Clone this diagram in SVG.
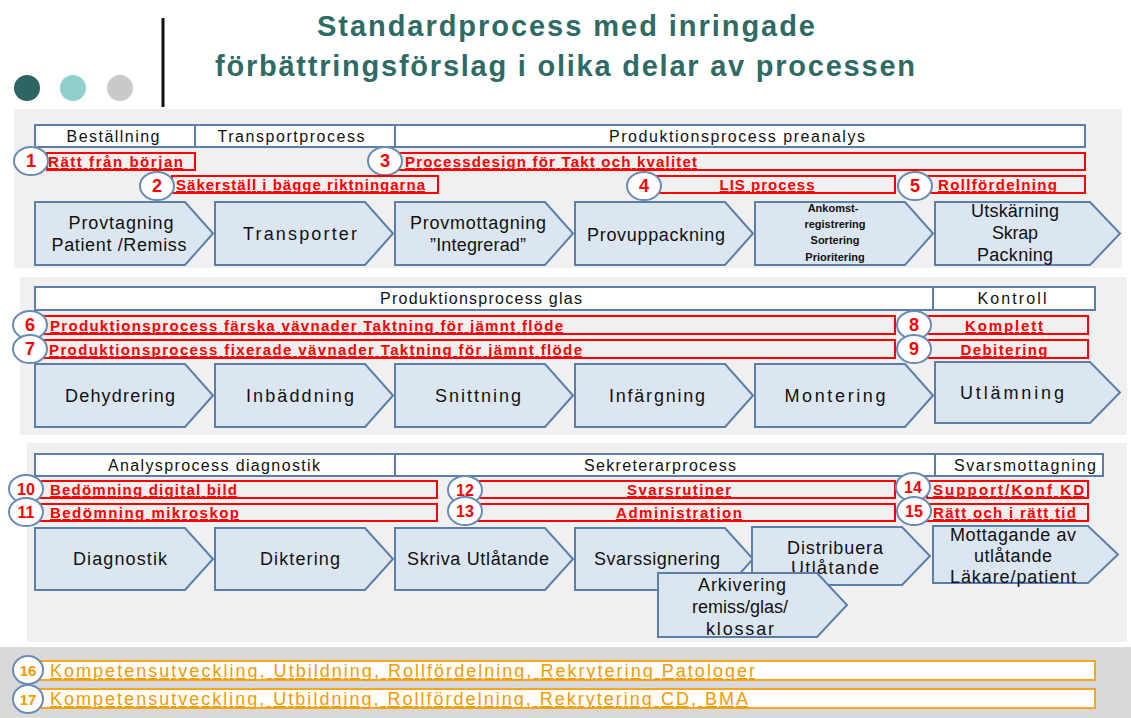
<svg xmlns="http://www.w3.org/2000/svg" width="1131" height="718" viewBox="0 0 1131 718">
<style>
.panel{fill:#f0f0f0}
.hdr{fill:#ffffff;stroke:#5b7fab;stroke-width:2}
.hdrt{font-family:"Liberation Sans",Arial,sans-serif;font-size:16px;fill:#111;text-anchor:middle}
.arr{fill:#dce6f1;stroke:#5b7fab;stroke-width:2;stroke-linejoin:miter}
.at{font-family:"Liberation Sans",Arial,sans-serif;font-size:18px;fill:#111;text-anchor:middle}
.ats{font-family:"Liberation Sans",Arial,sans-serif;font-size:11px;font-weight:bold;fill:#111;text-anchor:middle}
.rb{fill:none;stroke:#ff0000;stroke-width:2}
.rt{font-family:"Liberation Sans",Arial,sans-serif;font-size:15px;font-weight:bold;fill:#ff0000;text-decoration:underline}
.rtc{font-family:"Liberation Sans",Arial,sans-serif;font-size:15px;font-weight:bold;fill:#ff0000;text-anchor:middle;text-decoration:underline}
.ob{fill:#ffffff;stroke:#f5a623;stroke-width:2}
.ot{font-family:"Liberation Sans",Arial,sans-serif;font-size:18px;fill:#f59a00;text-decoration:underline}
.nc{fill:#ffffff;stroke:#6a8bb5;stroke-width:2}
.nt{font-family:"Liberation Sans",Arial,sans-serif;font-size:18px;font-weight:bold;fill:#ff0000;text-anchor:middle}
.ntw{font-family:"Liberation Sans",Arial,sans-serif;font-size:16px;font-weight:bold;fill:#ff0000;text-anchor:middle}
.nto{font-family:"Liberation Sans",Arial,sans-serif;font-size:15px;font-weight:bold;fill:#f59a00;text-anchor:middle}
.title{font-family:"Liberation Sans",Arial,sans-serif;font-size:29px;font-weight:bold;fill:#2f6b66;text-anchor:middle}
</style>
<rect x="0" y="0" width="1131" height="718" fill="#ffffff"/>

<g id="title">
  <text class="title" x="566" y="36" textLength="498">Standardprocess med inringade</text>
  <text class="title" x="565" y="76" textLength="700">förbättringsförslag i olika delar av processen</text>
  <line x1="163" y1="18" x2="163" y2="107" stroke="#111" stroke-width="3"/>
  <circle cx="27" cy="88" r="13" fill="#2e6461"/>
  <circle cx="73" cy="88" r="13" fill="#8fcfcc"/>
  <circle cx="120" cy="88" r="13" fill="#c9c9c9"/>
</g>

<g id="panels">
  <rect class="panel" x="14" y="109" width="1108" height="159"/>
  <rect class="panel" x="20" y="277" width="1107" height="158"/>
  <rect class="panel" x="27" y="443" width="1100" height="199"/>
  <rect x="0" y="647" width="1131" height="71" fill="#d9d9d9"/>
</g>

<!-- Panel 1 -->
<g id="h-bestallning"><rect class="hdr" x="35" y="125" width="160" height="22"/><text class="hdrt" x="113" y="142" textLength="93">Beställning</text></g>
<g id="h-transportprocess"><rect class="hdr" x="195" y="125" width="200" height="22"/><text class="hdrt" x="291" y="142" textLength="147">Transportprocess</text></g>
<g id="h-preanalys"><rect class="hdr" x="395" y="125" width="690" height="22"/><text class="hdrt" x="737" y="142" textLength="256">Produktionsprocess  preanalys</text></g>

<g id="a-provtagning"><path class="arr" d="M35,202 H185 L213,233.5 L185,265 H35 Z"/><text class="at" x="121" y="229" textLength="105">Provtagning</text><text class="at" x="119" y="251" textLength="135">Patient /Remiss</text></g>
<g id="a-transporter"><path class="arr" d="M215,202 H365 L393,233.5 L365,265 H215 Z"/><text class="at" x="300" y="240" textLength="114">Transporter</text></g>
<g id="a-provmottagning"><path class="arr" d="M395,202 H545 L573,233.5 L545,265 H395 Z"/><text class="at" x="478" y="229" textLength="136">Provmottagning</text><text class="at" x="478" y="251" textLength="96">”Integrerad”</text></g>
<g id="a-provuppackning"><path class="arr" d="M575,202 H725 L753,233.5 L725,265 H575 Z"/><text class="at" x="656" y="241" textLength="138">Provuppackning</text></g>
<g id="a-ankomst"><path class="arr" d="M755,202 H905 L933,233.5 L905,265 H755 Z"/><text class="ats" x="833" y="212">Ankomst-</text><text class="ats" x="835" y="228">registrering</text><text class="ats" x="835" y="244">Sortering</text><text class="ats" x="835" y="261">Prioritering</text></g>
<g id="a-utskarning"><path class="arr" d="M935,202 H1090 L1120,233.5 L1090,265 H935 Z"/><text class="at" x="1015" y="217" textLength="88">Utskärning</text><text class="at" x="1015" y="239" textLength="46">Skrap</text><text class="at" x="1015" y="261" textLength="76">Packning</text></g>

<g id="n1"><rect class="rb" x="47" y="153" width="148" height="17"/><text class="rt" x="48" y="167" textLength="135">Rätt från början</text><ellipse class="nc" cx="31" cy="161" rx="17" ry="14"/><text class="nt" x="31" y="167">1</text></g>
<g id="n3"><rect class="rb" x="395" y="153" width="690" height="17"/><text class="rt" x="405" y="167" textLength="292">Processdesign för Takt och kvalitet</text><ellipse class="nc" cx="385" cy="161" rx="17" ry="14"/><text class="nt" x="385" y="167">3</text></g>
<g id="n2"><rect class="rb" x="172" y="176" width="266" height="17"/><text class="rt" x="176" y="190" textLength="249">Säkerställ i bägge riktningarna</text><ellipse class="nc" cx="157" cy="186" rx="17" ry="14"/><text class="nt" x="157" y="192">2</text></g>
<g id="n4"><rect class="rb" x="657" y="176" width="238" height="17"/><text class="rtc" x="767" y="190" textLength="95">LIS process</text><ellipse class="nc" cx="644" cy="186" rx="17" ry="14"/><text class="nt" x="644" y="192">4</text></g>
<g id="n5"><rect class="rb" x="925" y="176" width="160" height="17"/><text class="rt" x="938" y="190" textLength="119">Rollfördelning</text><ellipse class="nc" cx="915" cy="186" rx="17" ry="14"/><text class="nt" x="915" y="192">5</text></g>

<!-- Panel 2 -->
<g id="h-glas"><rect class="hdr" x="35" y="287" width="898" height="23"/><text class="hdrt" x="481" y="304" textLength="202">Produktionsprocess glas</text></g>
<g id="h-kontroll"><rect class="hdr" x="933" y="287" width="162" height="23"/><text class="hdrt" x="1012" y="304" textLength="69">Kontroll</text></g>

<g id="a-dehydrering"><path class="arr" d="M35,364 H185 L213,395.5 L185,427 H35 Z"/><text class="at" x="120" y="402" textLength="110">Dehydrering</text></g>
<g id="a-inbaddning"><path class="arr" d="M215,364 H365 L393,395.5 L365,427 H215 Z"/><text class="at" x="300" y="402" textLength="108">Inbäddning</text></g>
<g id="a-snittning"><path class="arr" d="M395,364 H545 L573,395.5 L545,427 H395 Z"/><text class="at" x="478" y="402" textLength="86">Snittning</text></g>
<g id="a-infargning"><path class="arr" d="M575,364 H725 L753,395.5 L725,427 H575 Z"/><text class="at" x="657" y="402" textLength="96">Infärgning</text></g>
<g id="a-montering"><path class="arr" d="M755,364 H905 L933,395.5 L905,427 H755 Z"/><text class="at" x="835" y="402" textLength="101">Montering</text></g>
<g id="a-utlamning"><path class="arr" d="M935,362 H1090 L1120,392.5 L1090,423 H935 Z"/><text class="at" x="1012" y="399" textLength="104">Utlämning</text></g>

<g id="n6"><rect class="rb" x="40" y="316" width="855" height="18"/><text class="rt" x="50" y="331" textLength="513">Produktionsprocess färska vävnader Taktning för jämnt flöde</text><ellipse class="nc" cx="30" cy="325" rx="17" ry="14"/><text class="nt" x="30" y="331">6</text></g>
<g id="n7"><rect class="rb" x="40" y="340" width="855" height="18"/><text class="rt" x="49" y="355" textLength="533">Produktionsprocess  fixerade vävnader Taktning för jämnt flöde</text><ellipse class="nc" cx="30" cy="349" rx="17" ry="14"/><text class="nt" x="30" y="355">7</text></g>
<g id="n8"><rect class="rb" x="927" y="316" width="161" height="18"/><text class="rtc" x="1004" y="331" textLength="78">Komplett</text><ellipse class="nc" cx="914" cy="325" rx="17" ry="14"/><text class="nt" x="914" y="331">8</text></g>
<g id="n9"><rect class="rb" x="927" y="340" width="161" height="18"/><text class="rtc" x="1004" y="355" textLength="87">Debitering</text><ellipse class="nc" cx="914" cy="349" rx="17" ry="14"/><text class="nt" x="914" y="355">9</text></g>

<!-- Panel 3 -->
<g id="h-analys"><rect class="hdr" x="35" y="454" width="360" height="22"/><text class="hdrt" x="214" y="471" textLength="212">Analysprocess diagnostik</text></g>
<g id="h-sekreterar"><rect class="hdr" x="395" y="454" width="540" height="22"/><text class="hdrt" x="660" y="471" textLength="152">Sekreterarprocess</text></g>
<g id="h-svarsmottagning"><rect class="hdr" x="935" y="454" width="168" height="22"/><text class="hdrt" x="1025" y="471" textLength="142">Svarsmottagning</text></g>

<g id="a-diagnostik"><path class="arr" d="M35,528 H185 L213,559 L185,590 H35 Z"/><text class="at" x="120" y="565" textLength="94">Diagnostik</text></g>
<g id="a-diktering"><path class="arr" d="M215,528 H365 L393,559 L365,590 H215 Z"/><text class="at" x="300" y="565" textLength="80">Diktering</text></g>
<g id="a-skriva"><path class="arr" d="M395,528 H545 L573,559 L545,590 H395 Z"/><text class="at" x="478" y="565" textLength="142">Skriva Utlåtande</text></g>
<g id="a-svarssignering"><path class="arr" d="M575,528 H725 L753,559 L725,590 H575 Z"/><text class="at" x="657" y="565" textLength="126">Svarssignering</text></g>
<g id="a-distribuera"><path class="arr" d="M752,527 H902 L930,556 L902,585 H752 Z"/><text class="at" x="835" y="554" textLength="96">Distribuera</text><text class="at" x="835" y="574" textLength="88">Utlåtande</text></g>
<g id="a-mottagande"><path class="arr" d="M933,526 H1088 L1118,554.5 L1088,583 H933 Z"/><text class="at" x="1013" y="541" textLength="126">Mottagande av</text><text class="at" x="1013" y="562" textLength="78">utlåtande</text><text class="at" x="1013" y="583" textLength="126">Läkare/patient</text></g>
<g id="a-arkivering"><path class="arr" d="M658,573 H817 L847,605 L817,637 H658 Z"/><text class="at" x="742" y="591" textLength="88">Arkivering</text><text class="at" x="740" y="613" textLength="96">remiss/glas/</text><text class="at" x="740" y="635" textLength="68">klossar</text></g>

<g id="n10"><rect class="rb" x="40" y="481" width="397" height="17"/><text class="rt" x="50" y="495" textLength="187">Bedömning digital bild</text><ellipse class="nc" cx="26" cy="489" rx="17" ry="14"/><text class="ntw" x="26" y="495">10</text></g>
<g id="n11"><rect class="rb" x="40" y="504" width="397" height="17"/><text class="rt" x="50" y="518" textLength="189">Bedömning mikroskop</text><ellipse class="nc" cx="26" cy="512" rx="17" ry="14"/><text class="ntw" x="26" y="518">11</text></g>
<g id="n12"><rect class="rb" x="470" y="481" width="425" height="17"/><text class="rtc" x="679" y="495" textLength="104">Svarsrutiner</text><ellipse class="nc" cx="465" cy="490" rx="17" ry="14"/><text class="ntw" x="465" y="496">12</text></g>
<g id="n13"><rect class="rb" x="470" y="504" width="425" height="17"/><text class="rtc" x="679" y="518" textLength="126">Administration</text><ellipse class="nc" cx="465" cy="511" rx="17" ry="14"/><text class="ntw" x="465" y="517">13</text></g>
<g id="n14"><rect class="rb" x="927" y="481" width="161" height="17"/><text class="rt" x="933" y="495" textLength="151">Support/Konf KD</text><ellipse class="nc" cx="913" cy="487" rx="17" ry="14"/><text class="ntw" x="913" y="493">14</text></g>
<g id="n15"><rect class="rb" x="927" y="504" width="161" height="17"/><text class="rt" x="933" y="518" textLength="143">Rätt och i rätt tid</text><ellipse class="nc" cx="914" cy="511" rx="17" ry="14"/><text class="ntw" x="914" y="517">15</text></g>

<!-- Bottom -->
<g id="n16"><rect class="ob" x="22" y="661" width="1073" height="19"/><text class="ot" x="50" y="677" textLength="705">Kompetensutveckling, Utbildning, Rollfördelning, Rekrytering Patologer</text><ellipse class="nc" cx="28" cy="670" rx="15" ry="14"/><text class="nto" x="28" y="676">16</text></g>
<g id="n17"><rect class="ob" x="22" y="689" width="1073" height="19"/><text class="ot" x="50" y="705" textLength="698">Kompetensutveckling, Utbildning, Rollfördelning, Rekrytering CD, BMA</text><ellipse class="nc" cx="28" cy="699" rx="15" ry="14"/><text class="nto" x="28" y="705">17</text></g>
</svg>
